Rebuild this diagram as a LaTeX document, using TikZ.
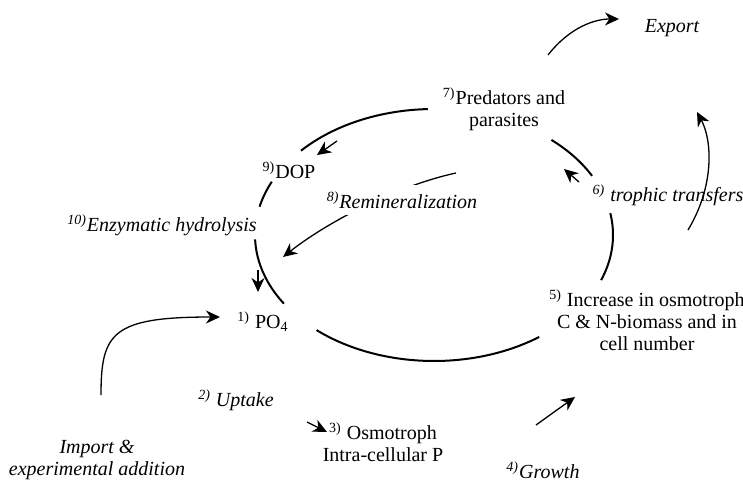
\documentclass[tikz,border=0pt]{standalone}
\usepackage{fontspec}
\setmainfont{Liberation Serif}
\usetikzlibrary{arrows.meta}

\begin{document}
\begin{tikzpicture}[
    x=0.5pt, y=-0.5pt,
    cycle/.style={line width=1pt},
    arrow/.style={-{Stealth[length=7pt, width=6.5pt, inset=2.2pt]}, line width=0.65pt},
    pool/.style={font=\fontsize{10}{11}\selectfont, align=center, inner sep=1pt},
    flux/.style={pool, font=\fontsize{10}{11}\selectfont\itshape}
]
\useasboundingbox (0,0) rectangle (743,482);

% The P cycle (broken ellipse)
\foreach \a/\b in {92/138, 155/167, 182/213, 229/306, 339/370, 28/49}
  \draw[cycle] plot[domain=\a:\b, samples=40, smooth] ({434+179*cos(\x)}, {235-126*sin(\x)});

% Pools
\node[pool] (po4) at (263,322) {\textsuperscript{1)} PO\textsubscript{4}};
\node[pool] (osmo) at (383,442) {\textsuperscript{3)} Osmotroph\\Intra-cellular P};
\node[pool] (increase) at (647,320) {\textsuperscript{5)} Increase in osmotroph\\C \& N-biomass and in\\cell number};
\node[pool] (pred) at (504,109) {\textsuperscript{7)}Predators and\\parasites};
\node[pool] (dop) at (289,170) {\textsuperscript{9)}DOP};

% Fluxes
\node[flux] (uptake) at (236,400) {\textsuperscript{2)} Uptake};
\node[flux] (growth) at (543,470) {\textsuperscript{4)}Growth};
\node[flux] (troph) at (668,195) {\textsuperscript{6)} trophic transfers};
\node[flux] (enzym) at (162,225) {\textsuperscript{10)}Enzymatic hydrolysis};
\node[flux] (import) at (97,460) {Import \&\\experimental addition};
\node[flux] (export) at (672,28) {Export};

% Arrow ends
\coordinate (imp-from) at (101,395);
\coordinate (imp-to) at (220,317);
\coordinate (upt-from) at (307,422);
\coordinate (upt-to) at (327,432);
\coordinate (gro-from) at (536,425);
\coordinate (gro-to) at (575,397);
\coordinate (tro-from) at (579,182);
\coordinate (tro-to) at (564,169);
\coordinate (exa-from) at (688,230);
\coordinate (exa-to) at (697,112);
\coordinate (exp-from) at (548,55);
\coordinate (exp-to) at (619,19);
\coordinate (dop-from) at (337,141);
\coordinate (dop-to) at (317,155);
\coordinate (rem-from) at (456,173);
\coordinate (rem-to) at (283,257);
\coordinate (enz-from) at (258,270);
\coordinate (enz-to) at (258,292);

% Arrows
\draw[arrow] (imp-from) .. controls (101,333) and (112,317) .. (imp-to);
\draw[arrow] (upt-from) -- (upt-to);
\draw[arrow] (gro-from) -- (gro-to);
\draw[arrow] (tro-from) -- (tro-to);
\draw[arrow] (exa-from) .. controls (715,185) and (712,140) .. (exa-to);
\draw[arrow] (exp-from) .. controls (570,27) and (595,19) .. (exp-to);
\draw[arrow] (dop-from) -- (dop-to);
\draw[arrow] (rem-from) .. controls (400,185) and (330,220) .. (rem-to);
\draw[arrow] (enz-from) -- (enz-to);

% Remineralization label over its arrow
\node[flux, fill=white, inner sep=3pt] (remin) at (402,200) {\textsuperscript{8)}Remineralization};

\end{tikzpicture}
\end{document}
